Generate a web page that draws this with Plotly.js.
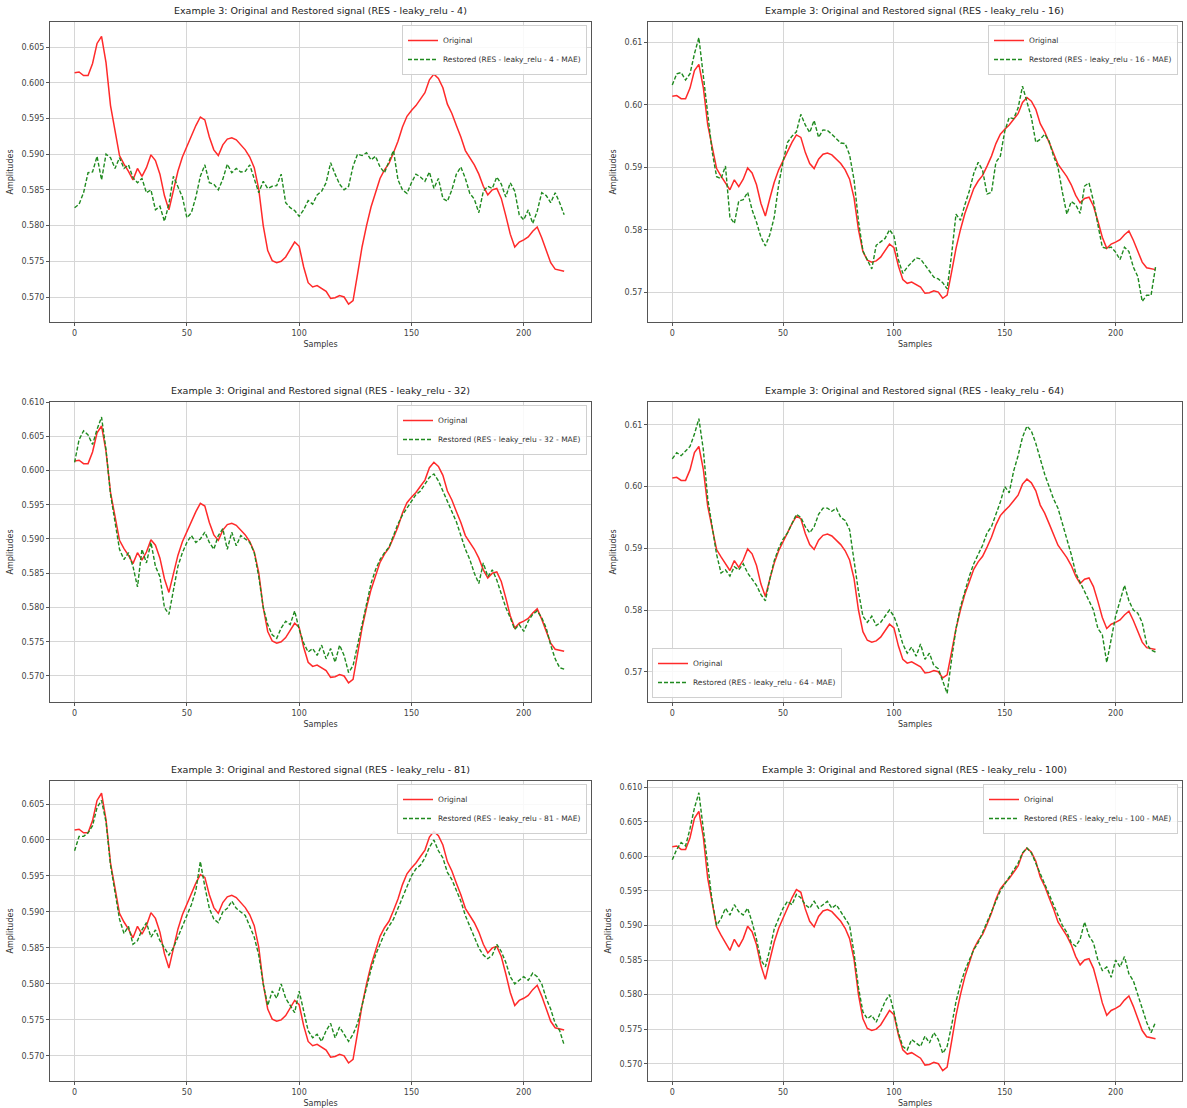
<!DOCTYPE html>
<html><head><meta charset="utf-8">
<script src="https://cdn.plot.ly/plotly-3.0.1.min.js"></script>
<style>html,body{margin:0;padding:0;background:#fff}#chart{width:1187px;height:1108px}</style>
</head><body><div id="chart"></div>
<script>
const samples=[0,2,4,6,8,10,12,14,16,18,20,22,24,26,28,30,32,34,36,38,40,42,44,46,48,50,52,54,56,58,60,62,64,66,68,70,72,74,76,78,80,82,84,86,88,90,92,94,96,98,100,102,104,106,108,110,112,114,116,118,120,122,124,126,128,130,132,134,136,138,140,142,144,146,148,150,152,154,156,158,160,162,164,166,168,170,172,174,176,178,180,182,184,186,188,190,192,194,196,198,200,202,204,206,208,210,212,214,216,218];

const original=[0.6014,0.6015,0.6010,0.6010,0.6027,0.6055,0.6065,0.6028,0.5968,0.5932,
0.5898,0.5886,0.5876,0.5864,0.5880,0.5869,0.5881,0.5899,0.5891,0.5872,
0.5842,0.5822,0.5850,0.5876,0.5896,0.5911,0.5925,0.5940,0.5952,0.5948,
0.5924,0.5906,0.5898,0.5913,0.5921,0.5923,0.5920,0.5913,0.5906,0.5896,
0.5881,0.5851,0.5800,0.5765,0.5751,0.5748,0.5750,0.5756,0.5767,0.5777,
0.5771,0.5742,0.5720,0.5714,0.5716,0.5712,0.5708,0.5698,0.5699,0.5702,
0.5700,0.5690,0.5695,0.5732,0.5770,0.5800,0.5826,0.5846,0.5866,0.5878,
0.5887,0.5902,0.5918,0.5938,0.5953,0.5961,0.5968,0.5977,0.5986,0.6004,
0.6012,0.6006,0.5993,0.5970,0.5957,0.5940,0.5924,0.5905,0.5895,0.5885,
0.5872,0.5855,0.5843,0.5850,0.5852,0.5838,0.5814,0.5788,0.5770,0.5777,
0.5780,0.5784,0.5792,0.5798,0.5783,0.5764,0.5748,0.5739,0.5737,0.5736];

const restored4=[0.5825,0.5830,0.5846,0.5874,0.5875,0.5897,0.5864,0.5900,0.5895,0.5880,
0.5895,0.5880,0.5885,0.5867,0.5860,0.5866,0.5846,0.5850,0.5822,0.5827,
0.5806,0.5830,0.5869,0.5855,0.5840,0.5811,0.5818,0.5840,0.5869,0.5885,
0.5860,0.5858,0.5850,0.5865,0.5886,0.5874,0.5880,0.5875,0.5876,0.5885,
0.5866,0.5846,0.5862,0.5852,0.5855,0.5856,0.5872,0.5832,0.5825,0.5821,
0.5813,0.5822,0.5835,0.5830,0.5843,0.5848,0.5860,0.5888,0.5872,0.5858,
0.5850,0.5855,0.5883,0.5900,0.5898,0.5902,0.5892,0.5897,0.5882,0.5874,
0.5890,0.5905,0.5864,0.5850,0.5845,0.5860,0.5872,0.5868,0.5862,0.5875,
0.5852,0.5866,0.5838,0.5834,0.5850,0.5872,0.5882,0.5866,0.5845,0.5837,
0.5818,0.5848,0.5855,0.5852,0.5868,0.5858,0.5840,0.5860,0.5848,0.5815,
0.5808,0.5822,0.5803,0.5820,0.5846,0.5842,0.5832,0.5846,0.5832,0.5815];

const restored16=[0.6032,0.6050,0.6052,0.6040,0.6050,0.6082,0.6108,0.6045,0.5980,0.5925,
0.5885,0.5882,0.5902,0.5820,0.5810,0.5846,0.5848,0.5860,0.5832,0.5812,
0.5788,0.5774,0.5792,0.5820,0.5872,0.5910,0.5940,0.5950,0.5957,0.5985,
0.5968,0.5956,0.5975,0.5948,0.5960,0.5959,0.5953,0.5946,0.5939,0.5938,
0.5920,0.5880,0.5814,0.5766,0.5751,0.5737,0.5775,0.5780,0.5786,0.5800,
0.5790,0.5752,0.5730,0.5740,0.5748,0.5755,0.5753,0.5743,0.5733,0.5724,
0.5721,0.5715,0.5705,0.5760,0.5825,0.5815,0.5840,0.5862,0.5890,0.5908,
0.5895,0.5857,0.5860,0.5908,0.5918,0.5958,0.5980,0.5978,0.5995,0.6030,
0.6005,0.5980,0.5940,0.5945,0.5953,0.5942,0.5918,0.5900,0.5860,0.5825,
0.5845,0.5840,0.5826,0.5870,0.5875,0.5846,0.5808,0.5772,0.5770,0.5772,
0.5764,0.5752,0.5772,0.5765,0.5740,0.5725,0.5685,0.5695,0.5695,0.5740];

const restored32=[0.6012,0.6045,0.6058,0.6052,0.6038,0.6060,0.6078,0.6030,0.5965,0.5925,
0.5885,0.5870,0.5880,0.5860,0.5830,0.5885,0.5865,0.5895,0.5860,0.5845,
0.5800,0.5790,0.5825,0.5860,0.5880,0.5895,0.5905,0.5895,0.5900,0.5910,
0.5895,0.5885,0.5905,0.5915,0.5885,0.5910,0.5890,0.5905,0.5900,0.5895,
0.5880,0.5845,0.5800,0.5775,0.5760,0.5755,0.5770,0.5780,0.5775,0.5795,
0.5768,0.5748,0.5735,0.5740,0.5730,0.5745,0.5725,0.5740,0.5720,0.5745,
0.5730,0.5705,0.5715,0.5745,0.5780,0.5810,0.5835,0.5855,0.5870,0.5880,
0.5888,0.5905,0.5922,0.5935,0.5945,0.5955,0.5965,0.5970,0.5980,0.5990,
0.5995,0.5985,0.5970,0.5955,0.5940,0.5925,0.5905,0.5885,0.5870,0.5850,
0.5835,0.5865,0.5845,0.5855,0.5840,0.5820,0.5800,0.5785,0.5768,0.5775,
0.5765,0.5780,0.5790,0.5795,0.5785,0.5770,0.5745,0.5725,0.5712,0.5710];

const restored64=[0.6045,0.6055,0.6050,0.6058,0.6065,0.6085,0.6110,0.6060,0.5980,0.5935,
0.5890,0.5860,0.5865,0.5855,0.5870,0.5865,0.5875,0.5860,0.5850,0.5840,
0.5825,0.5815,0.5850,0.5880,0.5900,0.5915,0.5925,0.5940,0.5955,0.5950,
0.5935,0.5925,0.5935,0.5955,0.5965,0.5965,0.5960,0.5965,0.5950,0.5945,
0.5930,0.5880,0.5830,0.5790,0.5780,0.5790,0.5775,0.5780,0.5790,0.5800,
0.5790,0.5770,0.5745,0.5730,0.5740,0.5725,0.5745,0.5720,0.5730,0.5710,
0.5705,0.5685,0.5665,0.5720,0.5770,0.5805,0.5830,0.5855,0.5875,0.5890,
0.5905,0.5925,0.5935,0.5955,0.5975,0.6000,0.5990,0.6025,0.6050,0.6080,
0.6098,0.6090,0.6070,0.6045,0.6020,0.6000,0.5980,0.5965,0.5940,0.5915,
0.5890,0.5860,0.5845,0.5830,0.5815,0.5800,0.5770,0.5760,0.5715,0.5750,
0.5790,0.5815,0.5840,0.5815,0.5800,0.5795,0.5780,0.5745,0.5735,0.5732];

const restored81=[0.5985,0.6005,0.6005,0.6010,0.6020,0.6045,0.6055,0.6025,0.5965,0.5925,
0.5890,0.5870,0.5880,0.5855,0.5860,0.5875,0.5885,0.5865,0.5875,0.5860,
0.5850,0.5840,0.5850,0.5865,0.5880,0.5895,0.5910,0.5930,0.5970,0.5935,
0.5905,0.5890,0.5885,0.5900,0.5905,0.5915,0.5905,0.5900,0.5895,0.5880,
0.5865,0.5840,0.5800,0.5770,0.5790,0.5780,0.5800,0.5780,0.5770,0.5760,
0.5790,0.5760,0.5735,0.5725,0.5730,0.5720,0.5735,0.5745,0.5725,0.5740,
0.5730,0.5720,0.5730,0.5745,0.5770,0.5795,0.5820,0.5840,0.5855,0.5870,
0.5880,0.5890,0.5905,0.5920,0.5935,0.5950,0.5960,0.5965,0.5975,0.5990,
0.6000,0.5985,0.5975,0.5955,0.5945,0.5930,0.5915,0.5895,0.5880,0.5865,
0.5850,0.5840,0.5835,0.5840,0.5855,0.5845,0.5830,0.5810,0.5800,0.5805,
0.5810,0.5805,0.5815,0.5810,0.5800,0.5780,0.5765,0.5745,0.5735,0.5715];

const restored100=[0.5995,0.6010,0.6020,0.6015,0.6040,0.6070,0.6092,0.6040,0.5980,0.5935,
0.5900,0.5910,0.5925,0.5915,0.5930,0.5920,0.5915,0.5925,0.5905,0.5880,
0.5850,0.5840,0.5865,0.5895,0.5910,0.5925,0.5935,0.5930,0.5945,0.5940,
0.5930,0.5925,0.5935,0.5925,0.5930,0.5935,0.5925,0.5930,0.5920,0.5910,
0.5900,0.5860,0.5810,0.5775,0.5765,0.5770,0.5760,0.5775,0.5790,0.5800,
0.5775,0.5745,0.5725,0.5720,0.5735,0.5730,0.5725,0.5740,0.5730,0.5745,
0.5735,0.5715,0.5725,0.5755,0.5790,0.5815,0.5835,0.5850,0.5865,0.5875,
0.5890,0.5905,0.5920,0.5935,0.5950,0.5960,0.5970,0.5980,0.5990,0.6005,
0.6012,0.6005,0.5990,0.5975,0.5960,0.5945,0.5930,0.5915,0.5900,0.5890,
0.5875,0.5870,0.5880,0.5905,0.5885,0.5875,0.5850,0.5835,0.5840,0.5825,
0.5850,0.5840,0.5855,0.5830,0.5820,0.5800,0.5780,0.5760,0.5745,0.5760];

const panelIds=[4,16,32,64,81,100];
const restoredSeries=[restored4,restored16,restored32,restored64,restored81,restored100];
const xTickVals=[0,50,100,150,200];

// layout/style configuration
const W=1187,H=1108;
const colDomains=[[50/W,591/W],[648/W,1182/W]];
const rowDomains=[[1-322/H,1-22/H],[1-702/H,1-402/H],[1-1081/H,1-781/H]];
const yRanges=[[0.5665,0.6085],[0.5652,0.6133],[0.5662,0.6100],[0.5651,0.6137],[0.5665,0.6082],[0.5675,0.6109]];
const yDticks=[0.005,0.01,0.005,0.01,0.005,0.005];
const yFormats=['.3f','.2f','.3f','.2f','.3f','.3f'];

const FONT='DejaVu Sans, Liberation Sans, sans-serif';
const traces=[];
const layout={
  width:W,height:H,margin:{l:0,r:0,t:0,b:0},
  paper_bgcolor:'#fff',plot_bgcolor:'#fff',
  font:{family:FONT,size:8,color:'#333'},
  showlegend:true,annotations:[]
};

for(let i=0;i<6;i++){
  const row=Math.floor(i/2),col=i%2;
  const sfx=i===0?'':String(i+1);
  const xd=colDomains[col],yd=rowDomains[row];
  const legName='legend'+sfx;
  traces.push({x:samples,y:original,type:'scatter',mode:'lines',name:'Original',
    xaxis:'x'+sfx,yaxis:'y'+sfx,legend:legName,
    line:{color:'#ff2a2a',width:1.5}});
  traces.push({x:samples,y:restoredSeries[i],type:'scatter',mode:'lines',
    name:'Restored (RES - leaky_relu - '+panelIds[i]+' - MAE)',
    xaxis:'x'+sfx,yaxis:'y'+sfx,legend:legName,
    line:{color:'#1f8a1f',width:1.4,dash:'4px,2px'}});
  const axBase={showline:true,mirror:true,linecolor:'#555',linewidth:1,
    showgrid:true,gridcolor:'#d6d6d6',gridwidth:1,zeroline:false,
    ticks:'outside',ticklen:3,tickcolor:'#555',tickfont:{size:8,color:'#444',family:FONT}};
  layout['xaxis'+sfx]=Object.assign({},axBase,{domain:xd,anchor:'y'+sfx,
    range:[-10.95,229.95],tickmode:'array',tickvals:xTickVals,
    title:{text:'Samples',font:{size:8,color:'#333'},standoff:4}});
  layout['yaxis'+sfx]=Object.assign({},axBase,{domain:yd,anchor:'x'+sfx,
    range:yRanges[i],tick0:0,dtick:yDticks[i],tickformat:yFormats[i],
    title:{text:'Amplitudes',font:{size:8,color:'#333'},standoff:6}});
  const leg={bgcolor:'rgba(255,255,255,0.85)',bordercolor:'#d0d0d0',borderwidth:1,
    font:{size:7.5,color:'#333',family:FONT},itemwidth:30,tracegroupgap:0};
  if(i===3){
    Object.assign(leg,{x:xd[0]+4/W,y:yd[0]+4/H,xanchor:'left',yanchor:'bottom'});
  } else {
    Object.assign(leg,{x:xd[1]-4/W,y:yd[1]-3/H,xanchor:'right',yanchor:'top'});
  }
  layout[legName]=leg;
  layout.annotations.push({text:'Example 3: Original and Restored signal (RES - leaky_relu - '+panelIds[i]+')',
    xref:'paper',yref:'paper',x:(xd[0]+xd[1])/2,y:yd[1]+4/H,xanchor:'center',yanchor:'bottom',
    showarrow:false,font:{size:9.5,color:'#222',family:FONT}});
}
Plotly.newPlot('chart',traces,layout,{displayModeBar:false,staticPlot:true});
</script></body></html>
